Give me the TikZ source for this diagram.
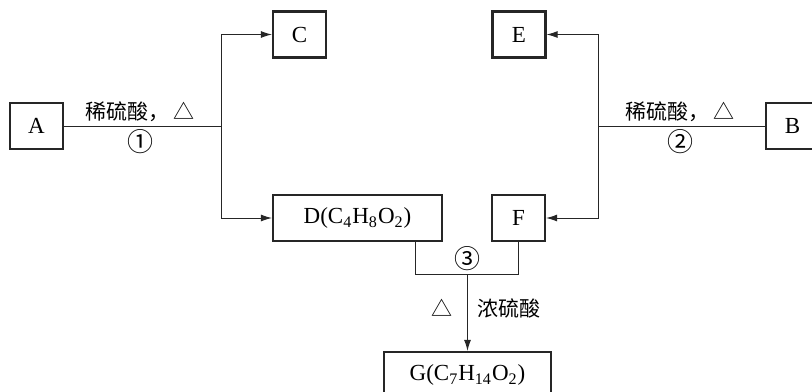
\documentclass[tikz,border=0pt]{standalone}
\usepackage{fontspec}
\setmainfont{Liberation Serif}
\newfontfamily\cjk{Noto Sans CJK SC}
\usepackage{tikz}
\usetikzlibrary{arrows.meta}
\tikzset{box/.style={draw=black!85, line width=1.1pt, minimum width=26.5pt, minimum height=23pt, inner sep=0pt, font=\fontsize{11.5}{13}\selectfont},
cond/.style={inner sep=0pt, font=\cjk\fontsize{10.5}{12}\selectfont},
num/.style={inner sep=0pt, font=\cjk\fontsize{13}{14}\selectfont},
edge/.style={draw=black!85, line width=0.5pt},
arr/.style={edge, -{Latex[length=5.5pt,width=3.5pt]}}}

\begin{document}
\begin{tikzpicture}[x=0.5pt,y=-0.5pt]
\useasboundingbox (0,0) rectangle (812,391);
%boxes
\node[box] (A) at (36.5,126) {A};
\node[box] (B) at (792.5,126) {B};
\node[box] (C) at (299.5,34.5) {C};
\node[box] (E) at (519,34.5) {E};
\node[box, minimum width=84.5pt] (D) at (357.5,218) {D(C\textsubscript{4}H\textsubscript{8}O\textsubscript{2})};
\node[box] (F) at (518.5,218) {F};
\node[box, minimum width=83.5pt] (G) at (467.5,375) {G(C\textsubscript{7}H\textsubscript{14}O\textsubscript{2})};
%junctions
\coordinate (jl) at (221,126); \coordinate (jr) at (598,126);
\coordinate (jd) at (415,274); \coordinate (jf) at (518.5,274); \coordinate (jm) at (467.5,274);
%edges
\draw[edge] (A.east) -- (jl); \draw[arr] (jl) |- (C.west); \draw[arr] (jl) |- (D.west);
\draw[edge] (B.west) -- (jr); \draw[arr] (jr) |- (E.east); \draw[arr] (jr) |- (F.east);
\draw[edge] (jd |- D.south) -- (jd) -- (jf) -- (F.south);
\draw[arr] (jm) -- (G.north);
%labels
\node[cond] (t1) at (140,112) {稀硫酸，\,△}; \node[num] (n1) at (140,142) {①};
\node[cond] (t2) at (680,112) {稀硫酸，\,△}; \node[num] (n2) at (680,142) {②};
\node[num] (n3) at (467,259) {③};
\node[cond] (h3) at (442,308) {△}; \node[cond] (t3) at (509,308) {浓硫酸};
\end{tikzpicture}
\end{document}
